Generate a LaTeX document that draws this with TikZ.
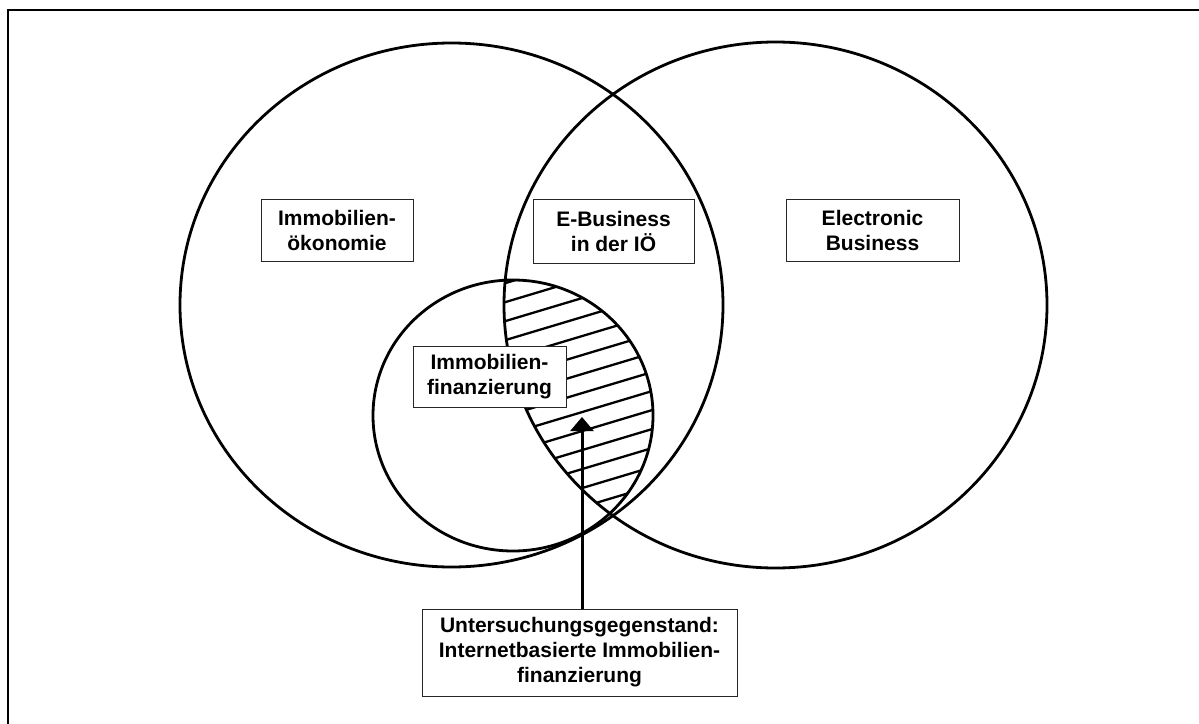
\documentclass[tikz,border=0pt]{standalone}
\usepackage{fontspec}
\setmainfont{Liberation Sans}
\usetikzlibrary{arrows.meta}
\begin{document}
\begin{tikzpicture}[x=1pt,y=-1pt,
  setline/.style={line width=2.8pt},
  tagbox/.style={draw=black!85, line width=0.9pt, fill=white, align=center,
    font=\fontsize{21}{25}\selectfont\bfseries, inner sep=0pt},
  hatchline/.style={line width=2.3pt}]
\useasboundingbox (0,0) rectangle (1199,723);

% outer frame, running off the right and bottom edges
\begin{scope}
  \clip (0,0) rectangle (1199,723);
  \draw[line width=2.5pt] (8,10) rectangle (1240,760);
\end{scope}

% hatched overlap of the financing set and the e-business set
\begin{scope}
  \clip (513,415.5) ellipse [x radius=140, y radius=135.5];
  \clip (775.5,305) ellipse [x radius=271.5, y radius=263];
  \foreach \k in {0,...,13}
    \draw[hatchline] (400,{284.7+19*\k+30}) -- (720,{284.7+19*\k-66});
\end{scope}

% the three sets
\draw[setline] (451.5,305) ellipse [x radius=271.5, y radius=262];
\draw[setline] (775.5,305) ellipse [x radius=271.5, y radius=263];
\draw[setline] (513,415.5) ellipse [x radius=140, y radius=135.5];

% set labels
\node[tagbox, minimum width=152pt, minimum height=62pt] (oek) at (337,230) {Immobilien-\\ökonomie};
\node[tagbox, minimum width=161pt, minimum height=64pt] (eb) at (613.5,231) {E-Business\\in der IÖ};
\node[tagbox, minimum width=173pt, minimum height=62pt] (el) at (872.5,230) {Electronic\\Business};
\node[tagbox, minimum width=153pt, minimum height=61pt] (fin) at (489.5,376.5) {Immobilien-\\finanzierung};
\node[tagbox, minimum width=315pt, minimum height=87pt] (goal) at (579.5,652.5)
  {Untersuchungsgegenstand:\\Internetbasierte Immobilien-\\finanzierung};

% pointer into the hatched area
\coordinate (tip) at (582,417);
\draw[line width=3pt, -{Triangle[width=23pt,length=14pt]}] (goal.north -| tip) -- (tip);
\end{tikzpicture}
\end{document}
